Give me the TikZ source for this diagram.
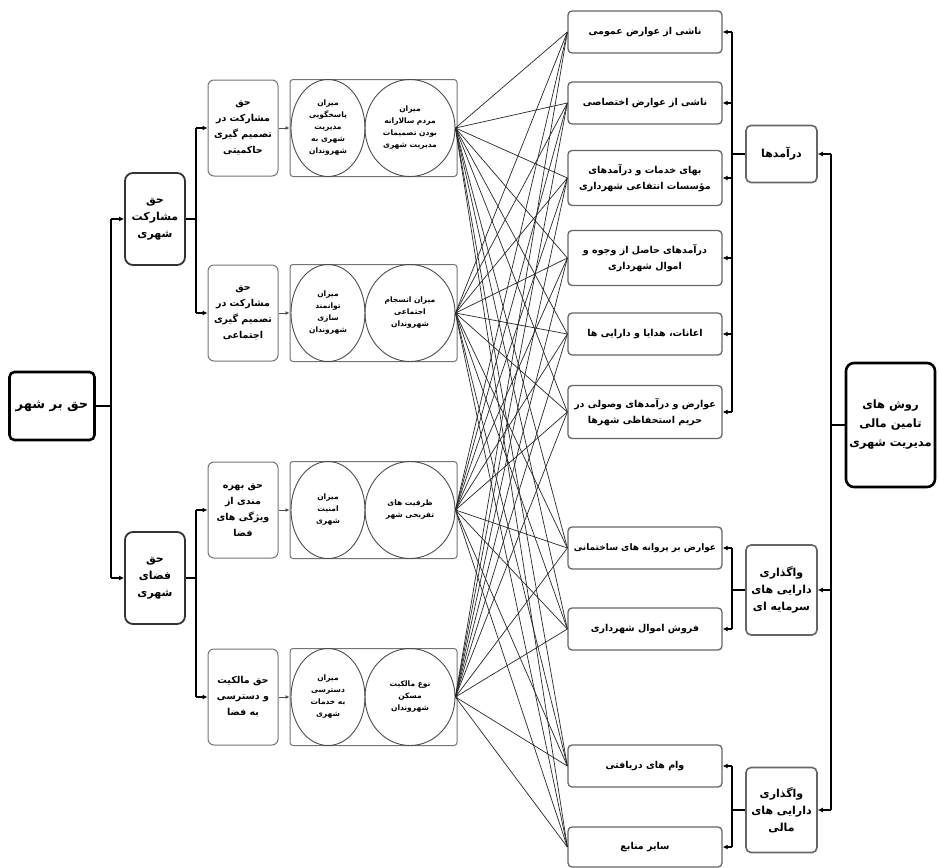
\documentclass[tikz,border=0pt]{standalone}
\usepackage{fontspec}
\newfontfamily\arabicfont[Script=Arabic]{DejaVu Sans}
\TeXXeTstate=1
\usetikzlibrary{arrows.meta,shapes.geometric}
\newcommand{\fa}[1]{\beginR #1\endR}
\newcommand{\fsz}[2]{\fontsize{#1}{#2}\selectfont}
\tikzset{
  every node/.style={align=center, inner sep=2pt},
  rootbox/.style={draw, line width=2.6pt, rounded corners=5pt, minimum width=85pt, minimum height=68pt, font=\arabicfont\bfseries\fsz{13}{18}},
  lvlone/.style={draw=black!80, line width=1.8pt, rounded corners=8pt, minimum width=60pt, minimum height=92pt, font=\arabicfont\bfseries\fsz{11}{17}},
  lvltwo/.style={draw=black!55, line width=1pt, rounded corners=6pt, minimum width=70pt, minimum height=96pt, font=\arabicfont\bfseries\fsz{9.5}{16}},
  grp/.style={draw=black!55, line width=1pt, rounded corners=3pt, minimum width=167pt, minimum height=97pt},
  circl/.style={draw=black!70, ellipse, line width=0.9pt, inner sep=0pt, minimum height=97pt, font=\arabicfont\bfseries\fsz{7.5}{12}},
  rbox/.style={draw=black!60, line width=1.3pt, rounded corners=4pt, minimum width=154pt, minimum height=42pt, font=\arabicfont\bfseries\fsz{9.5}{16}},
  catbox/.style={draw=black!60, line width=1.6pt, rounded corners=5pt, minimum width=71pt, font=\arabicfont\bfseries\fsz{11}{17}},
  methbox/.style={draw, line width=2.6pt, rounded corners=8pt, minimum width=89pt, minimum height=124pt, inner sep=1pt, font=\arabicfont\bfseries\fsz{11.5}{19}},
  conn/.style={line width=1.8pt},
  arr/.style={line width=1.6pt, -{Latex[length=5pt,width=5pt]}},
  sarr/.style={line width=0.8pt, black!70, -{Latex[length=4pt,width=4pt]}},
  web/.style={line width=0.7pt, black!85}
}
\begin{document}
\begin{tikzpicture}[x=1pt, y=-1pt]
  \useasboundingbox (0,0) rectangle (939,867);

  \node[rootbox] (shahr) at (52,406) {\fa{حق بر شهر}};
  \node[lvlone] (mosh) at (155,219) {\fa{حق}\\\fa{مشارکت}\\\fa{شهری}};
  \node[lvlone] (faza) at (155,578) {\fa{حق}\\\fa{فضای}\\\fa{شهری}};

  \node[lvltwo] (hak1) at (243,128) {\fa{حق}\\\fa{مشارکت در}\\\fa{تصمیم گیری}\\\fa{حاکمیتی}};
  \node[lvltwo] (hak2) at (243,313) {\fa{حق}\\\fa{مشارکت در}\\\fa{تصمیم گیری}\\\fa{اجتماعی}};
  \node[lvltwo] (hak3) at (243,510) {\fa{حق بهره}\\\fa{مندی از}\\\fa{ویژگی های}\\\fa{فضا}};
  \node[lvltwo] (hak4) at (243,697) {\fa{حق مالکیت}\\\fa{و دسترسی}\\\fa{به فضا}};

  \node[grp] (g1) at (373.5,128) {};
  \node[grp] (g2) at (373.5,313) {};
  \node[grp] (g3) at (373.5,510) {};
  \node[grp] (g4) at (373.5,697) {};

  \node[circl, minimum width=74pt] (a1) at (328,128) {\fa{میزان}\\\fa{پاسخگویی}\\\fa{مدیریت}\\\fa{شهری به}\\\fa{شهروندان}};
  \node[circl, minimum width=90pt] (b1) at (410,128) {\fa{میزان}\\\fa{مردم سالارانه}\\\fa{بودن تصمیمات}\\\fa{مدیریت شهری}};
  \node[circl, minimum width=74pt] (a2) at (328,313) {\fa{میزان}\\\fa{توانمند}\\\fa{سازی}\\\fa{شهروندان}};
  \node[circl, minimum width=90pt] (b2) at (410,313) {\fa{میزان انسجام}\\\fa{اجتماعی}\\\fa{شهروندان}};
  \node[circl, minimum width=74pt] (a3) at (328,510) {\fa{میزان}\\\fa{امنیت}\\\fa{شهری}};
  \node[circl, minimum width=90pt] (b3) at (410,510) {\fa{ظرفیت های}\\\fa{تفریحی شهر}};
  \node[circl, minimum width=74pt] (a4) at (328,697) {\fa{میزان}\\\fa{دسترسی}\\\fa{به خدمات}\\\fa{شهری}};
  \node[circl, minimum width=90pt] (b4) at (410,697) {\fa{نوع مالکیت}\\\fa{مسکن}\\\fa{شهروندان}};

  \node[rbox] (r1) at (645,32) {\fa{ناشی از عوارض عمومی}};
  \node[rbox] (r2) at (645,103) {\fa{ناشی از عوارض اختصاصی}};
  \node[rbox, minimum height=55pt] (r3) at (645,178) {\fa{بهای خدمات و درآمدهای}\\\fa{مؤسسات انتفاعی شهرداری}};
  \node[rbox, minimum height=55pt] (r4) at (645,258) {\fa{درآمدهای حاصل از وجوه و}\\\fa{اموال شهرداری}};
  \node[rbox] (r5) at (645,334) {\fa{اعانات، هدایا و دارایی ها}};
  \node[rbox, minimum height=53pt] (r6) at (645,412) {\fa{عوارض و درآمدهای وصولی در}\\\fa{حریم استحفاظی شهرها}};
  \node[rbox, font=\arabicfont\bfseries\fsz{9}{16}] (r7) at (645,548) {\fa{عوارض بر پروانه های ساختمانی}};
  \node[rbox] (r8) at (645,629) {\fa{فروش اموال شهرداری}};
  \node[rbox] (r9) at (645,766) {\fa{وام های دریافتی}};
  \node[rbox, minimum height=40pt] (r10) at (645,847) {\fa{سایر منابع}};

  \node[catbox, minimum height=57pt] (inc) at (781.5,154) {\fa{درآمدها}};
  \node[catbox, minimum height=90pt] (cap) at (781.5,590) {\fa{واگذاری}\\\fa{دارایی های}\\\fa{سرمایه ای}};
  \node[catbox, minimum height=85pt] (fin) at (781.5,810) {\fa{واگذاری}\\\fa{دارایی های}\\\fa{مالی}};
  \node[methbox] (meth) at (890.5,425) {\fa{روش های}\\\fa{تامین مالی}\\\fa{مدیریت شهری}};

  \draw[conn] (shahr.east) -- ++(15,0) coordinate (j1);
  \draw[conn] (j1 |- mosh.west) -- (j1 |- faza.west);
  \draw[arr] (j1 |- mosh.west) -- (mosh.west);
  \draw[arr] (j1 |- faza.west) -- (faza.west);

  \draw[conn] (mosh.east) -- ++(10,0) coordinate (j2);
  \draw[conn] (j2 |- hak1.west) -- (j2 |- hak2.west);
  \draw[arr] (j2 |- hak1.west) -- (hak1.west);
  \draw[arr] (j2 |- hak2.west) -- (hak2.west);
  \draw[conn] (faza.east) -- ++(10,0) coordinate (j3);
  \draw[conn] (j3 |- hak3.west) -- (j3 |- hak4.west);
  \draw[arr] (j3 |- hak3.west) -- (hak3.west);
  \draw[arr] (j3 |- hak4.west) -- (hak4.west);

  \foreach \i in {1,...,4}
    \draw[sarr] (hak\i.east) -- (g\i.west);

  \foreach \s in {1,...,4}
    \foreach \t in {1,...,10}
      \draw[web] (b\s.east) -- (r\t.west);

  \draw[conn] (inc.west) -- ++(-13,0) coordinate (k1);
  \draw[conn] (k1 |- r1.east) -- (k1 |- r6.east);
  \foreach \t in {1,...,6}
    \draw[arr] (k1 |- r\t.east) -- (r\t.east);
  \draw[conn] (cap.west) -- ++(-13,0) coordinate (k2);
  \draw[conn] (k2 |- r7.east) -- (k2 |- r8.east);
  \draw[arr] (k2 |- r7.east) -- (r7.east);
  \draw[arr] (k2 |- r8.east) -- (r8.east);
  \draw[conn] (fin.west) -- ++(-13,0) coordinate (k3);
  \draw[conn] (k3 |- r9.east) -- (k3 |- r10.east);
  \draw[arr] (k3 |- r9.east) -- (r9.east);
  \draw[arr] (k3 |- r10.east) -- (r10.east);

  \draw[conn] (meth.west) -- ++(-14,0) coordinate (k4);
  \draw[conn] (k4 |- inc.east) -- (k4 |- fin.east);
  \foreach \n in {inc,cap,fin}
    \draw[arr] (k4 |- \n.east) -- (\n.east);
\end{tikzpicture}
\end{document}
